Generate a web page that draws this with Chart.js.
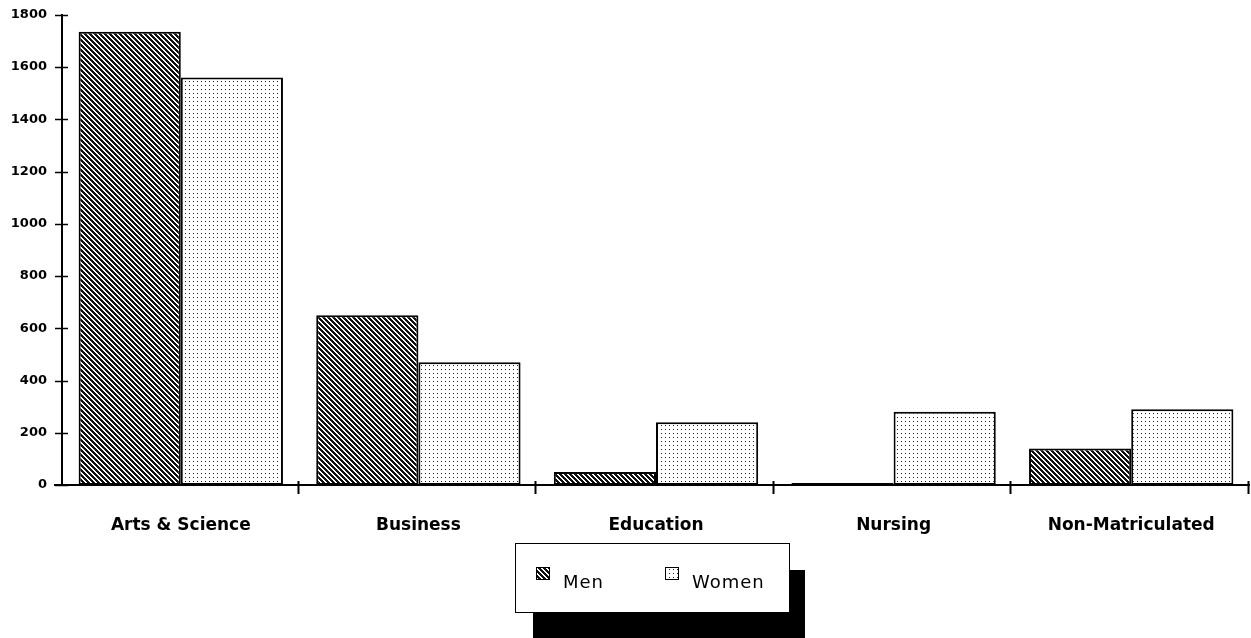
<!DOCTYPE html>
<html>
<head>
<meta charset="utf-8">
<script src="https://cdn.jsdelivr.net/npm/chart.js@4/dist/chart.umd.min.js"></script>
<style>
  html, body { margin: 0; padding: 0; background: #fff; }
  #wrap { width: 1251px; height: 638px; position: relative; }
</style>
</head>
<body>
<div id="wrap"><canvas id="chart"></canvas></div>
<script>
const categorias = ["Arts & Science", "Business", "Education", "Nursing", "Non-Matriculated"];
const homens = [1735, 650, 50, 8, 140];
const mulheres = [1560, 470, 240, 280, 290];
const ticksY = [0, 200, 400, 600, 800, 1000, 1200, 1400, 1600, 1800];

// hachura diagonal (Men)
function padraoHachura() {
  const c = document.createElement("canvas");
  c.width = 5; c.height = 5;
  const ctx = c.getContext("2d");
  ctx.fillStyle = "#fff";
  ctx.fillRect(0, 0, 5, 5);
  ctx.fillStyle = "#111";
  for (let y = 0; y < 5; y++) {
    for (let x = 0; x < 5; x++) {
      const d = ((x - y) % 5 + 5) % 5;
      if (d <= 2) ctx.fillRect(x, y, 1, 1);
    }
  }
  return ctx.createPattern(c, "repeat");
}

// pontilhado (Women)
function padraoPontos() {
  const c = document.createElement("canvas");
  c.width = 4; c.height = 4;
  const ctx = c.getContext("2d");
  ctx.fillStyle = "#fff";
  ctx.fillRect(0, 0, 4, 4);
  ctx.fillStyle = "#222";
  ctx.fillRect(1, 1, 1, 1);
  return ctx.createPattern(c, "repeat");
}

const hachura = padraoHachura();
const pontos = padraoPontos();

// legenda com caixa e sombra
const legendaCaixa = {
  id: "legendaCaixa",
  afterDraw(chart) {
    const ctx = chart.ctx;
    const area = chart.chartArea;
    const w = 274, h = 69;
    const x = Math.round((area.left + area.right) / 2 - w / 2 - 4);
    const y = 543;
    ctx.save();
    ctx.fillStyle = "#000";
    ctx.fillRect(x + 18, y + 27, w - 2, h);
    ctx.fillStyle = "#fff";
    ctx.fillRect(x, y, w, h);
    ctx.strokeStyle = "#000";
    ctx.lineWidth = 1;
    ctx.strokeRect(x + 0.5, y + 0.5, w, h);

    const itens = chart.data.datasets;
    const posicoes = [21, 150];
    ctx.font = "18px 'DejaVu Sans'";
    ctx.textBaseline = "middle";
    if ("letterSpacing" in ctx) ctx.letterSpacing = "1px";
    itens.forEach((ds, i) => {
      const sx = x + posicoes[i];
      const sy = y + 24;
      ctx.fillStyle = ds.backgroundColor;
      ctx.fillRect(sx, sy, 14, 13);
      ctx.strokeStyle = "#000";
      ctx.lineWidth = 1;
      ctx.strokeRect(sx + 0.5, sy + 0.5, 13, 12);
      ctx.fillStyle = "#000";
      ctx.fillText(ds.label, sx + 27, sy + 16);
    });
    ctx.restore();
  }
};

// marcas do eixo Y cruzando a linha
const marcasY = {
  id: "marcasY",
  afterDraw(chart) {
    const ctx = chart.ctx;
    const y = chart.scales.y;
    const x = chart.scales.x;
    ctx.save();
    ctx.strokeStyle = "#000";
    ctx.lineWidth = 1.5;
    y.ticks.forEach((t, i) => {
      const py = Math.round(y.getPixelForTick(i)) + 0.5;
      ctx.beginPath();
      ctx.moveTo(y.right - 7, py);
      ctx.lineTo(y.right + 6, py);
      ctx.stroke();
    });
    // linha do eixo X prolongada para a esquerda
    ctx.lineWidth = 2;
    ctx.beginPath();
    ctx.moveTo(y.right - 8, x.top);
    ctx.lineTo(x.right, x.top);
    ctx.stroke();
    // marcas entre categorias
    const n = categorias.length;
    for (let i = 1; i <= n; i++) {
      const px = Math.round(x.left + (x.right - x.left) * i / n) - 1.5;
      ctx.beginPath();
      ctx.moveTo(px, x.top - 4);
      ctx.lineTo(px, x.top + 9);
      ctx.stroke();
    }
    ctx.restore();
  }
};

new Chart(document.getElementById("chart"), {
  type: "bar",
  data: {
    labels: categorias,
    datasets: [
      {
        label: "Men",
        data: homens,
        backgroundColor: hachura,
        borderColor: "#000",
        borderWidth: 2,
        borderSkipped: false,
      },
      {
        label: "Women",
        data: mulheres,
        backgroundColor: pontos,
        borderColor: "#000",
        borderWidth: 2,
        borderSkipped: false,
      },
    ],
  },
  options: {
    responsive: true,
    maintainAspectRatio: false,
    animation: false,
    layout: {
      padding: { left: 0, right: 1, top: 10, bottom: 0 },
    },
    datasets: {
      bar: {
        categoryPercentage: 0.86,
        barPercentage: 1,
      },
    },
    plugins: {
      legend: { display: false },
      tooltip: { enabled: false },
    },
    scales: {
      y: {
        min: 0,
        max: 1800,
        afterBuildTicks: (s) => { s.ticks = ticksY.map(v => ({ value: v })); },
        afterFit: (s) => { s.width = 62; },
        grid: { display: false },
        border: { display: true, color: "#000", width: 2 },
        ticks: {
          color: "#000",
          padding: 7,
          callback: (v) => String(v),
          font: { family: "'DejaVu Sans'", size: 13, weight: "bold" },
        },
      },
      x: {
        afterFit: (s) => { s.height = 153; },
        grid: { display: false },
        border: { display: false },
        ticks: {
          color: "#000",
          padding: 22,
          maxRotation: 0,
          font: { family: "'DejaVu Sans'", size: 17, weight: "bold" },
        },
      },
    },
  },
  plugins: [marcasY, legendaCaixa],
});
</script>
</body>
</html>
